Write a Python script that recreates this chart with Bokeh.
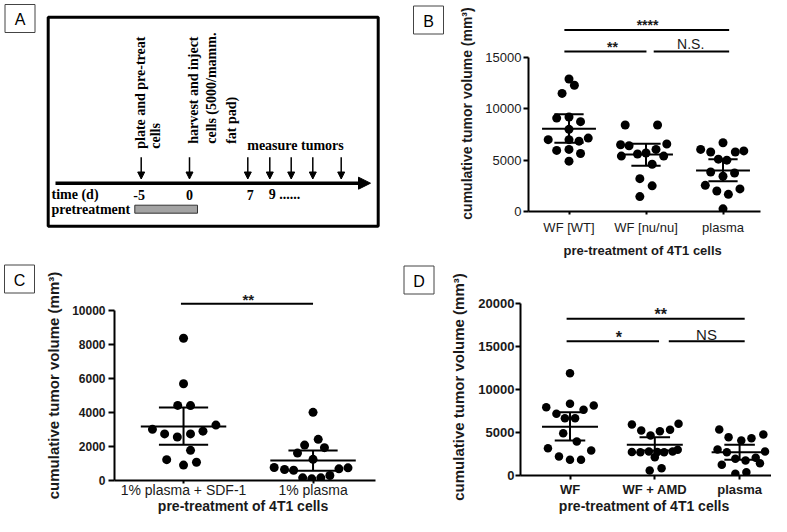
import math
from bokeh.plotting import figure
from bokeh.models import Range1d, FixedTicker, Arrow, NormalHead
from bokeh.layouts import row, column
from bokeh.embed import file_html
from bokeh.resources import INLINE
from bokeh.core.properties import value

SANS = "Liberation Sans"
SERIF = "Liberation Serif"
INK = "#1a1a1a"

# ======================= DATA =======================
# ---- Panel B ----
b_categories = ["WF [WT]", "WF [nu/nu]", "plasma"]
b_wf_wt = [12900, 12300, 11500, 9100, 9200, 8750, 8000, 7000, 7000, 6850, 7150, 5950, 6050, 5650, 4900]
b_wf_wt_jit = [0.0, 0.07, -0.09, -0.16, 0.0, 0.15, 0.0, -0.27, 0.0, 0.13, 0.25, -0.16, 0.0, 0.15, 0.0]
b_wf_nu = [8430, 8430, 6500, 6400, 6570, 6050, 5700, 5400, 5600, 5400, 4600, 3200, 2500, 1450]
b_wf_nu_jit = [-0.27, 0.15, -0.33, -0.22, 0.27, 0.13, 0.0, -0.32, -0.11, 0.23, 0.08, -0.08, 0.08, -0.08]
b_plasma = [6700, 6050, 5800, 5800, 5900, 5100, 5000, 3850, 3430, 3750, 2550, 2000, 1670, 2200, 260]
b_plasma_jit = [0.0, -0.29, -0.16, 0.16, 0.27, -0.06, 0.05, -0.16, 0.0, 0.15, -0.23, -0.08, 0.07, 0.22, 0.0]
b_mean = [8050, 5550, 4000]
b_low = [6700, 4450, 2950]
b_high = [9480, 6600, 5100]
b_sig_x0 = [-0.06, -0.06, 1.10]
b_sig_x1 = [2.08, 1.006, 2.08]
b_sig_y = [17670, 15580, 15580]
b_sig_text = ["****", "**", "N.S."]
b_sig_tx = [1.02, 0.565, 1.58]
b_sig_ty = [17520, 15380, 15780]
b_y_ticks = [0, 5000, 10000, 15000]

# ---- Panel C ----
c_categories = ["1% plasma + SDF-1", "1% plasma"]
c_sdf = [8370, 5690, 4410, 4400, 3000, 3250, 2730, 2550, 2730, 2890, 1760, 1210, 1060, 890]
c_sdf_jit = [0.0, 0.0, -0.045, 0.054, -0.24, 0.25, -0.146, -0.048, 0.054, 0.15, 0.054, -0.13, 0.1, 0.0]
c_plasma = [4000, 2410, 2070, 1920, 1600, 1230, 750, 630, 590, 670, 730, 140, 80, 140, 280]
c_plasma_jit = [0.0, 0.04, -0.065, 0.088, -0.12, 0.0, -0.3, -0.22, -0.15, 0.2, 0.27, -0.08, -0.01, 0.06, 0.13]
c_mean = [3170, 1160]
c_low = [2090, 560]
c_high = [4280, 1750]
c_sig_x0 = [-0.02]
c_sig_x1 = [1.0]
c_sig_y = [10400]
c_sig_text = ["**"]
c_sig_tx = [0.5]
c_sig_ty = [10280]
c_y_ticks = [0, 2000, 4000, 6000, 8000, 10000]

# ---- Panel D ----
d_categories = ["WF", "WF + AMD", "plasma"]
d_wf = [11920, 7960, 8350, 8160, 7190, 7660, 6680, 6680, 4930, 3960, 3180, 2910, 2200, 1830, 1830]
d_wf_jit = [0.0, -0.28, 0.0, 0.28, -0.16, 0.16, -0.06, 0.06, -0.08, 0.08, -0.26, 0.25, -0.13, 0.0, 0.13]
d_amd = [5940, 6020, 5240, 4660, 5160, 5330, 2750, 2700, 2800, 2750, 2700, 2800, 3000, 2140, 580, 850]
d_amd_jit = [-0.27, 0.28, -0.16, -0.05, 0.06, 0.18, -0.27, -0.17, -0.07, 0.03, 0.11, 0.21, 0.27, 0.0, -0.06, 0.08]
d_plasma = [5360, 4470, 4080, 4350, 4780, 3030, 2720, 2800, 1940, 1750, 2060, 1250, 1430, 200, 380]
d_plasma_jit = [-0.24, -0.13, 0.02, 0.14, 0.28, -0.26, -0.15, 0.3, -0.05, 0.07, 0.19, -0.21, 0.24, -0.05, 0.08]
d_mean = [5670, 3580, 2720]
d_low = [4080, 2900, 1830]
d_high = [7380, 4470, 3580]
d_sig_x0 = [-0.04, -0.04, 1.165]
d_sig_x1 = [2.06, 1.05, 2.06]
d_sig_y = [18260, 15650, 15650]
d_sig_text = ["**", "*", "NS"]
d_sig_tx = [1.07, 0.575, 1.61]
d_sig_ty = [18020, 15340, 15880]
d_y_ticks = [0, 5000, 10000, 15000, 20000]

# ---- Panel A (schematic timeline) ----
a_vertical_labels = ["plate and pre-treat", "cells", "harvest and inject", "cells (5000/mamm.", "fat pad)"]
a_day_labels = ["-5", "0", "7", "9 ......"]
a_row_labels = ["time (d)", "pretreatment"]
a_measure_label = "measure tumors"
panel_letters = ["A", "B", "C", "D"]

Y_LABEL = "cumulative tumor volume (mm\u00b3)"
X_LABEL = "pre-treatment  of 4T1 cells"


# ======================= helpers =======================
def blank_fig(x0, x1, y0, y1):
    """Axis-less figure whose data space is the original image's pixel space."""
    p = figure(width=int(round(x1 - x0)), height=int(round(y1 - y0)),
               x_range=Range1d(x0, x1), y_range=Range1d(y1, y0),
               x_axis_type=None, y_axis_type=None, min_border=0,
               output_backend="svg", toolbar_location=None)
    p.frame_align = False
    p.grid.visible = False
    p.outline_line_color = None
    p.background_fill_color = "white"
    p.border_fill_color = "white"
    return p


def letter_box(p, cx, cy, letter):
    p.quad(left=cx - 15, right=cx + 15, top=cy - 14, bottom=cy + 14, fill_color="white",
           line_color="#444444", line_width=1)
    p.text(x=[cx], y=[cy + 1], text=[letter], text_align="center", text_baseline="middle",
           text_font=value(SANS), text_font_size="16px", text_color="black")


# ======================= PANEL A (+ letter B) =======================
pA = blank_fig(0, 450, 0, 260)
letter_box(pA, 19.5, 18, panel_letters[0])
letter_box(pA, 428, 19.5, panel_letters[1])

pA.quad(left=47.7, right=377.7, top=16.7, bottom=225.7, fill_color=None,
        line_color="black", line_width=3)

pA.add_layout(Arrow(end=NormalHead(size=12, fill_color="black", line_color="black", line_width=1),
                    x_start=55, y_start=182.7, x_end=370, y_end=182.7,
                    line_width=3.5, line_color="black"))
arrow_x = [140.7, 189, 247.3, 269.3, 290.7, 312.3, 340.7]
for ax_ in arrow_x:
    pA.add_layout(Arrow(end=NormalHead(size=7, fill_color="black", line_color="black", line_width=1),
                        x_start=ax_, y_start=156.7, x_end=ax_, y_end=178.5,
                        line_width=1.5, line_color="black"))

serif_kw = dict(text_font=value(SERIF), text_font_style="bold", text_font_size="14px", text_color="black")
pA.text(x=[140, 154.5, 193.3, 211, 230.5], y=[148.3, 148.3, 143.3, 143.3, 143.3],
        text=a_vertical_labels, angle=math.pi / 2, text_align="left", text_baseline="middle", **serif_kw)
pA.text(x=[295], y=[145], text=[a_measure_label], text_align="center", text_baseline="middle", **serif_kw)
pA.text(x=[138.7, 189, 249.7], y=[194, 194, 194], text=a_day_labels[:3], text_align="center",
        text_baseline="middle", **serif_kw)
pA.text(x=[268.3], y=[194], text=a_day_labels[3:], text_align="left", text_baseline="middle", **serif_kw)
pA.text(x=[51, 51], y=[194, 209], text=a_row_labels, text_align="left", text_baseline="middle", **serif_kw)
pA.quad(left=134.3, right=197, top=204.7, bottom=212.7, fill_color="#a3a3a3",
        line_color="#333333", line_width=1)

# letter figures for C and D
pCL = blank_fig(0, 42, 260, 516)
letter_box(pCL, 19, 278.5, panel_letters[2])
pDL = blank_fig(390, 445, 260, 516)
letter_box(pDL, 418.5, 279.5, panel_letters[3])


# ======================= SCATTER PANELS =======================
def scatter_panel(spec):
    ox, oy = spec["origin"]
    W, H = spec["size"]
    fl, fr, ft, fb = spec["frame"]
    c0, step = spec["cat_px"]
    zero_px, ppu = spec["y_px"]

    def dx(px):
        return (px - c0) / step

    def dy(py):
        return (zero_px - py) / ppu

    p = figure(width=W, height=H,
               x_range=Range1d(dx(ox + fl), dx(ox + fr)),
               y_range=Range1d(dy(oy + fb), dy(oy + ft)),
               min_border_left=fl, min_border_right=W - fr,
               min_border_top=ft, min_border_bottom=H - fb,
               output_backend="svg", toolbar_location=None)
    p.frame_align = False
    p.grid.visible = False
    p.outline_line_color = None
    p.background_fill_color = "white"
    p.border_fill_color = "white"

    xa = p.xaxis[0]
    ya = p.yaxis[0]
    for ax in (xa, ya):
        ax.axis_line_width = 2
        ax.axis_line_color = "black"
        ax.major_tick_line_width = 2
        ax.major_tick_line_color = "black"
        ax.minor_tick_line_color = None
        ax.major_tick_in = 0
        ax.major_label_text_font = SANS
        ax.axis_label_text_font = SANS
        ax.axis_label_text_font_style = "bold"
        ax.axis_label_text_color = INK
        ax.major_label_text_color = INK

    cats = spec["categories"]
    idx = list(range(len(cats)))
    xa.ticker = FixedTicker(ticks=idx)
    xa.major_label_overrides = {i: c for i, c in zip(idx, cats)}
    xa.major_tick_out = spec["xtick"]
    xa.major_label_standoff = spec["xstand"]
    xa.major_label_text_font_size = spec["xfs"]
    xa.major_label_text_font_style = spec["xstyle"]
    xa.axis_label = X_LABEL
    xa.axis_label_text_font_size = spec["xlabfs"]
    xa.axis_label_standoff = spec["xlabstand"]

    ya.ticker = FixedTicker(ticks=spec["y_ticks"])
    ya.bounds = (0, spec["y_ticks"][-1])
    ya.major_tick_out = spec["ytick"]
    ya.major_label_standoff = spec["ystand"]
    ya.major_label_text_font_size = spec["yfs"]
    ya.major_label_text_font_style = spec["ystyle"]
    ya.axis_label = Y_LABEL
    ya.axis_label_text_font_size = spec["ylabfs"]
    ya.axis_label_standoff = spec["ylabstand"]

    dot = spec["dot"]
    for i, (vals, jit) in enumerate(spec["groups"]):
        p.scatter(x=[i + j for j in jit], y=vals, size=dot, marker="circle",
                  fill_color="black", line_color="black", line_width=0)

    cap = spec["cap"]
    mh = spec["mean_half"]
    p.segment(x0=idx, y0=spec["low"], x1=idx, y1=spec["high"], line_color="black", line_width=2)
    p.segment(x0=[i - cap for i in idx], y0=spec["low"], x1=[i + cap for i in idx], y1=spec["low"],
              line_color="black", line_width=2)
    p.segment(x0=[i - cap for i in idx], y0=spec["high"], x1=[i + cap for i in idx], y1=spec["high"],
              line_color="black", line_width=2)
    p.segment(x0=[i - mh for i in idx], y0=spec["mean"], x1=[i + mh for i in idx], y1=spec["mean"],
              line_color="black", line_width=2)

    p.segment(x0=spec["sig_x0"], y0=spec["sig_y"], x1=spec["sig_x1"], y1=spec["sig_y"],
              line_color="black", line_width=2)
    for t, tx, ty in zip(spec["sig_text"], spec["sig_tx"], spec["sig_ty"]):
        star = t.startswith("*")
        lift = (spec["star_raise"] if star else spec["text_raise"]) / ppu
        p.text(x=[tx], y=[ty + lift], text=[t], text_align="center", text_baseline="alphabetic",
               text_font=value(SANS), text_font_style="bold" if star else "normal",
               text_font_size=spec["starfs"] if star else spec["nsfs"], text_color=INK)
    return p


pB = scatter_panel(dict(
    origin=(450, 0), size=(321, 260), frame=(78, 310, 15, 211),
    cat_px=(568.5, 77.0), y_px=(211.0, 10.267 / 1000),
    categories=b_categories, groups=[(b_wf_wt, b_wf_wt_jit), (b_wf_nu, b_wf_nu_jit), (b_plasma, b_plasma_jit)],
    mean=b_mean, low=b_low, high=b_high, y_ticks=b_y_ticks,
    sig_x0=b_sig_x0, sig_x1=b_sig_x1, sig_y=b_sig_y, sig_text=b_sig_text, sig_tx=b_sig_tx, sig_ty=b_sig_ty,
    xtick=3, xstand=5, xfs="13px", xstyle="normal", xlabfs="13px", xlabstand=5,
    ytick=5, ystand=2, yfs="13px", ystyle="normal", ylabfs="14px", ylabstand=7,
    dot=9, cap=0.19, mean_half=0.35, starfs="14px", nsfs="14px", star_raise=6.5, text_raise=5))

pC = scatter_panel(dict(
    origin=(42, 260), size=(348, 256), frame=(71, 333, 30, 221),
    cat_px=(182.3, 130.0), y_px=(480.7, 17.05 / 1000),
    categories=c_categories, groups=[(c_sdf, c_sdf_jit), (c_plasma, c_plasma_jit)],
    mean=c_mean, low=c_low, high=c_high, y_ticks=c_y_ticks,
    sig_x0=c_sig_x0, sig_x1=c_sig_x1, sig_y=c_sig_y, sig_text=c_sig_text, sig_tx=c_sig_tx, sig_ty=c_sig_ty,
    xtick=3, xstand=-2, xfs="14px", xstyle="normal", xlabfs="14px", xlabstand=-3,
    ytick=6, ystand=3, yfs="12px", ystyle="bold", ylabfs="15px", ylabstand=7,
    dot=9, cap=0.19, mean_half=0.33, starfs="15px", nsfs="15px", star_raise=6.5, text_raise=5))

pD = scatter_panel(dict(
    origin=(445, 260), size=(326, 256), frame=(75, 326, 38, 215),
    cat_px=(569.5, 84.8), y_px=(475.0, 8.585 / 1000),
    categories=d_categories, groups=[(d_wf, d_wf_jit), (d_amd, d_amd_jit), (d_plasma, d_plasma_jit)],
    mean=d_mean, low=d_low, high=d_high, y_ticks=d_y_ticks,
    sig_x0=d_sig_x0, sig_x1=d_sig_x1, sig_y=d_sig_y, sig_text=d_sig_text, sig_tx=d_sig_tx, sig_ty=d_sig_ty,
    xtick=4, xstand=2, xfs="13px", xstyle="bold", xlabfs="14px", xlabstand=-2,
    ytick=5, ystand=1, yfs="13px", ystyle="bold", ylabfs="15px", ylabstand=8,
    dot=8.5, cap=0.18, mean_half=0.33, starfs="16px", nsfs="15px", star_raise=6.5, text_raise=5))

layout = column(row(pA, pB, spacing=0), row(pCL, pC, pDL, pD, spacing=0), spacing=0)
open("out.html", "w").write(file_html(layout, INLINE))
